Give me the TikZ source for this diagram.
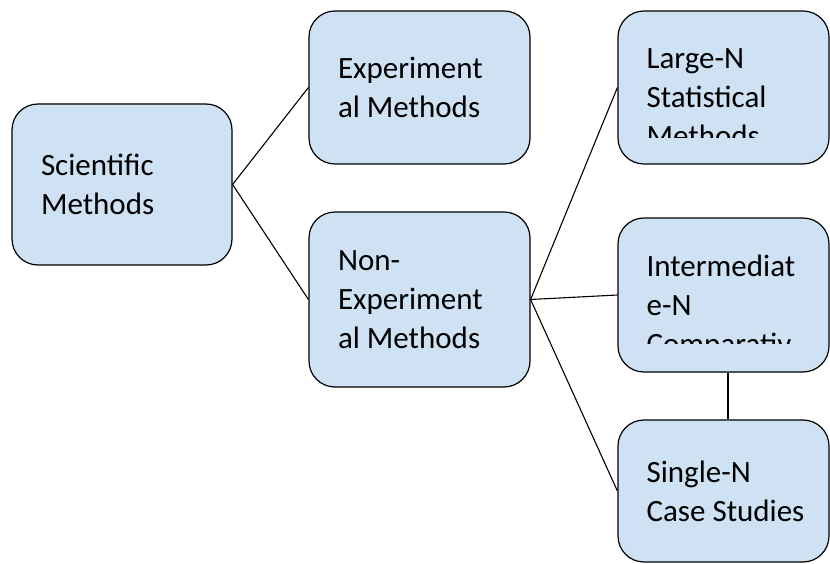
\documentclass[tikz,border=0pt]{standalone}
\usepackage{fontspec}
\setmainfont{Carlito}
\definecolor{boxblue}{RGB}{207,226,243}
\tikzset{
  methodbox/.style={draw=black,line width=1.2pt,fill=boxblue,rounded corners=26pt,
    inner sep=0pt,align=flush left,font=\fontsize{31}{39}\selectfont},
  boxtext/.style={anchor=base west,align=flush left,inner sep=0pt,text width=170pt,
    font=\fontsize{31}{39}\selectfont},
  conn/.style={line width=1.1pt}
}
\begin{document}
\begin{tikzpicture}[x=1pt,y=1pt]
\def\inset{29}
\useasboundingbox (0,0) rectangle (830,563);

\node[methodbox,minimum width=220pt,minimum height=161pt,text width=162pt]
  (sci) at (122,378.5) {Scientific\\Methods};
\node[methodbox,minimum width=221pt,minimum height=153pt,text width=163pt]
  (exp) at (419.5,475.5) {Experiment\\al Methods};
\node[methodbox,minimum width=221pt,minimum height=175pt,text width=163pt]
  (nonexp) at (419.5,263.5) {Non-\\Experiment\\al Methods};
\node[methodbox,minimum width=211pt,minimum height=153pt] (large) at (723.5,475.5) {};
\node[methodbox,minimum width=211pt,minimum height=154pt] (inter) at (723.5,268) {};
\node[methodbox,minimum width=211pt,minimum height=142pt] (single) at (723.5,72) {};
\node[boxtext] (singletxt) at ([shift={(\inset pt,-63pt)}]single.north west)
  {Single-N\\Case Studies};

% text running past the lower edge is cut off
\begin{scope}
\clip ([yshift=27pt]large.south west) rectangle (large.north east);
\node[boxtext] (largetxt) at ([shift={(\inset pt,-58pt)}]large.north west)
  {Large-N\\Statistical\\Methods};
\end{scope}
\begin{scope}
\clip ([yshift=29pt]inter.south west) rectangle (inter.north east);
\node[boxtext] (intertxt) at ([shift={(\inset pt,-59pt)}]inter.north west)
  {Intermediat\\e-N\\Comparativ};
\end{scope}

\foreach \t in {exp,nonexp} { \draw[conn] (sci.east)--(\t.west); };
\foreach \t in {large,inter,single} { \draw[conn] (nonexp.east)--(\t.west); };
\draw[conn] ([xshift=4.5pt]inter.south)--([xshift=4.5pt]single.north);
\end{tikzpicture}
\end{document}
